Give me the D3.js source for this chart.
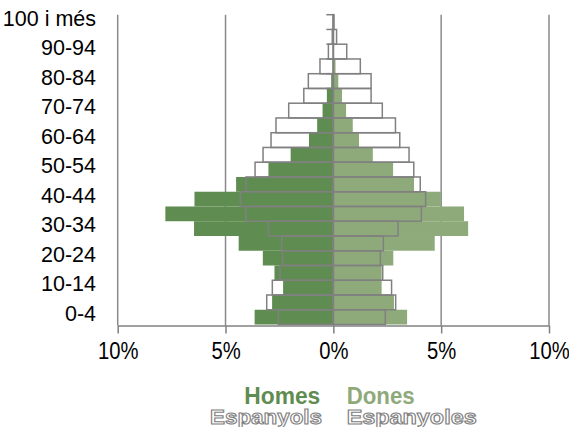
<!DOCTYPE html>
<html>
<head>
<meta charset="utf-8">
<script src="https://cdn.jsdelivr.net/npm/d3@7"></script>
<style>
  body { margin: 0; background: #fff; }
  text { font-family: "Liberation Sans", Arial, sans-serif; }
</style>
</head>
<body>
<div id="vis"></div>
<script>
// age groups, bottom (0-4) to top (100 i més)
const ages = ['0-4','5-9','10-14','15-19','20-24','25-29','30-34','35-39','40-44','45-49',
  '50-54','55-59','60-64','65-69','70-74','75-79','80-84','85-89','90-94','95-99','100 i més']

// % of population, foreigners (filled bars)
const menForeign = [3.65, 2.84, 2.33, 2.73, 3.27, 4.39, 6.46, 7.79, 6.44, 4.51,
  3.01, 1.98, 1.13, 0.75, 0.5, 0.3, 0.1, 0.03, 0.01, 0, 0]
const womenForeign = [3.42, 2.81, 2.24, 2.24, 2.78, 4.70, 6.25, 6.06, 4.99, 3.74,
  2.77, 1.83, 1.19, 0.9, 0.59, 0.4, 0.23, 0.1, 0.03, 0.01, 0]

// % of population, Spanish (outlined bars)
const menSpanish = [2.55, 3.09, 2.83, 2.47, 2.35, 2.39, 3.01, 4.05, 4.31, 4.05,
  3.63, 3.26, 2.89, 2.66, 2.07, 1.37, 1.16, 0.62, 0.23, 0.05, 0.01]
const womenSpanish = [2.41, 2.89, 2.7, 2.29, 2.18, 2.32, 3.0, 4.08, 4.28, 4.03,
  3.73, 3.51, 3.08, 2.88, 2.27, 1.75, 1.75, 1.25, 0.62, 0.15, 0.03]

const xTicks = [-10, -5, 0, 5, 10]
const ageLabels = ['0-4','10-14','20-24','30-34','40-44','50-54','60-64','70-74','80-84','90-94','100 i més']

const darkGreen = '#5f8c50'
const lightGreen = '#8faa7a'
const gray = '#808080'

const width = 569, height = 427
const plotTop = 14.7, plotBottom = 324.5, axisY = 325.5

let xScale = d3.scaleLinear().domain([-10, 10]).range([117.7, 549])
let yScale = d3.scaleBand().domain(ages.slice().reverse()).range([plotTop, plotBottom]).padding(0)

let svg = d3.select('#vis').append('svg')
  .attr('width', width)
  .attr('height', height)

// vertical gridlines
svg.append('g').selectAll('line')
  .data(xTicks.filter(d => d !== 0))
  .join('line')
  .attr('x1', d => xScale(d)).attr('x2', d => xScale(d))
  .attr('y1', plotTop).attr('y2', axisY)
  .attr('stroke', '#8a8a8a').attr('stroke-width', 1.5)

// category ticks on the left of the centre axis
svg.append('g').selectAll('line')
  .data(ages)
  .join('line')
  .attr('x1', xScale(0) - 7).attr('x2', xScale(0))
  .attr('y1', d => yScale(d)).attr('y2', d => yScale(d))
  .attr('stroke', gray).attr('stroke-width', 1.5)

const idx = d3.range(ages.length)

// foreigners: filled bars
svg.append('g').selectAll('rect')
  .data(idx)
  .join('rect')
  .attr('x', i => xScale(-menForeign[i]))
  .attr('y', i => yScale(ages[i]))
  .attr('width', i => xScale(0) - xScale(-menForeign[i]))
  .attr('height', yScale.bandwidth())
  .attr('fill', darkGreen)

svg.append('g').selectAll('rect')
  .data(idx)
  .join('rect')
  .attr('x', xScale(0))
  .attr('y', i => yScale(ages[i]))
  .attr('width', i => xScale(womenForeign[i]) - xScale(0))
  .attr('height', yScale.bandwidth())
  .attr('fill', lightGreen)

// spanish: outlines on top
svg.append('g').selectAll('rect')
  .data(idx)
  .join('rect')
  .attr('x', i => xScale(-menSpanish[i]))
  .attr('y', i => yScale(ages[i]))
  .attr('width', i => xScale(0) - xScale(-menSpanish[i]))
  .attr('height', yScale.bandwidth())
  .attr('fill', 'none')
  .attr('stroke', gray).attr('stroke-width', 1.5)

svg.append('g').selectAll('rect')
  .data(idx)
  .join('rect')
  .attr('x', xScale(0))
  .attr('y', i => yScale(ages[i]))
  .attr('width', i => xScale(womenSpanish[i]) - xScale(0))
  .attr('height', yScale.bandwidth())
  .attr('fill', 'none')
  .attr('stroke', gray).attr('stroke-width', 1.5)

// centre axis
svg.append('line')
  .attr('x1', xScale(0)).attr('x2', xScale(0))
  .attr('y1', plotTop).attr('y2', axisY)
  .attr('stroke', gray).attr('stroke-width', 1.5)

// x axis
let xAxis = d3.axisBottom(xScale)
  .tickValues(xTicks)
  .tickSize(8)
  .tickSizeOuter(0)
  .tickFormat(d => Math.abs(d) + '%')

let gx = svg.append('g')
  .attr('transform', `translate(0,${axisY})`)
  .call(xAxis)
gx.select('.domain').attr('stroke', gray).attr('stroke-width', 1.5)
gx.selectAll('.tick line').attr('stroke', gray).attr('stroke-width', 1.5)
gx.selectAll('.tick text')
  .attr('y', 34).attr('dy', 0)
  .attr('transform', 'scale(0.88,1)')
  .attr('fill', '#000')
  .style('font-size', '23px')
  .style('font-family', '"Liberation Sans", Arial, sans-serif')

// age labels
svg.append('g').selectAll('text')
  .data(ageLabels)
  .join('text')
  .attr('x', 96)
  .attr('y', d => yScale(d) + yScale.bandwidth() / 2 - 2)
  .attr('text-anchor', 'end')
  .attr('dominant-baseline', 'middle')
  .style('font-size', '21.5px')
  .text(d => d)

// legend
let legend = svg.append('g')
legend.append('text').attr('x', 244.3).attr('y', 404)
  .attr('textLength', 76).attr('lengthAdjust', 'spacingAndGlyphs')
  .style('font-size', '23px').style('font-weight', 'bold')
  .attr('fill', darkGreen).text('Homes')
legend.append('text').attr('x', 346.7).attr('y', 404)
  .attr('textLength', 68).attr('lengthAdjust', 'spacingAndGlyphs')
  .style('font-size', '23px').style('font-weight', 'bold')
  .attr('fill', lightGreen).text('Dones')
legend.append('text').attr('x', 210).attr('y', 424)
  .attr('textLength', 112).attr('lengthAdjust', 'spacingAndGlyphs')
  .style('font-size', '21px').style('font-weight', 'bold')
  .attr('fill', '#fff').attr('stroke', gray).attr('stroke-width', 1.1)
  .text('Espanyols')
legend.append('text').attr('x', 346.7).attr('y', 424)
  .attr('textLength', 130).attr('lengthAdjust', 'spacingAndGlyphs')
  .style('font-size', '21px').style('font-weight', 'bold')
  .attr('fill', '#fff').attr('stroke', gray).attr('stroke-width', 1.1)
  .text('Espanyoles')
</script>
</body>
</html>
